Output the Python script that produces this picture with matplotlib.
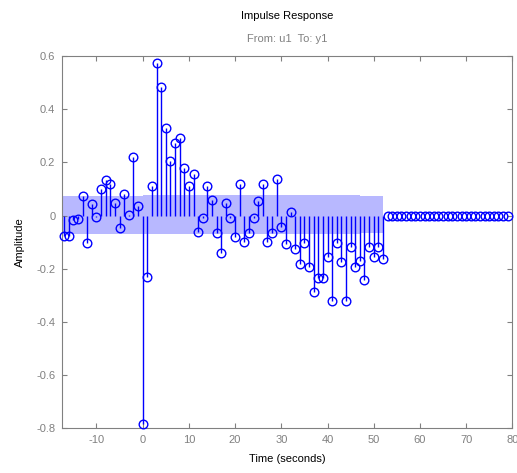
import numpy as np
import matplotlib
matplotlib.use("Agg")
import matplotlib.pyplot as plt

plt.rcParams['font.family'] = ['Liberation Sans', 'DejaVu Sans']
plt.rcParams['axes.unicode_minus'] = False

# ---- data ----
time_start = -17
response = [
    -0.077, -0.077, -0.015, -0.012, 0.075, -0.105, 0.043, -0.004, 0.100, 0.135,
    0.118, 0.046, -0.046, 0.081, 0.002, 0.222, 0.037, -0.784, -0.231, 0.110,
    0.573, 0.485, 0.331, 0.205, 0.274, 0.293, 0.178, 0.112, 0.155, -0.060,
    -0.010, 0.110, 0.059, -0.067, -0.142, 0.046, -0.010, -0.082, 0.118, -0.098,
    -0.067, -0.010, 0.055, 0.118, -0.098, -0.067, 0.136, -0.042, -0.107, 0.015,
    -0.127, -0.183, -0.103, -0.192, -0.289, -0.236, -0.236, -0.157, -0.322, -0.105,
    -0.173, -0.322, -0.118, -0.193, -0.171, -0.242, -0.117, -0.154, -0.117, -0.163,
]
n_zero_tail = 27  # zero samples after the estimated response
band_x = [-18, 0, 47, 52]
band_hi = [0.075, 0.078, 0.072, 0.072]
band_lo = [-0.069, -0.071, -0.067, -0.067]

xticks = [-10, 0, 10, 20, 30, 40, 50, 60, 70, 80]
xticklabels = ['-10', '0', '10', '20', '30', '40', '50', '60', '70', '80']
yticks = [-0.8, -0.6, -0.4, -0.2, 0.0, 0.2, 0.4, 0.6]
yticklabels = ['-0.8', '-0.6', '-0.4', '-0.2', '0', '0.2', '0.4', '0.6']

title = 'Impulse Response'
subtitle = 'From: u1  To: y1'
xlabel = 'Time (seconds)'
ylabel = 'Amplitude'

# ---- build ----
y = np.array(response + [0.0] * n_zero_tail)
t = np.arange(time_start, time_start + len(y))

fig = plt.figure(figsize=(5.17, 4.73), dpi=100)
ax = fig.add_axes([0.1205, 0.0945, 0.991 - 0.1205, 0.8816 - 0.0945])

ax.fill_between(band_x, band_hi, band_lo, step='post', color='#b8b8ff',
                linewidth=0, zorder=1)

blue = '#0000ff'
ax.vlines(t, 0, y, colors=blue, linewidth=1.0, zorder=2)
ax.plot(t, y, linestyle='none', marker='o', markersize=6.2,
        markerfacecolor='none', markeredgecolor=blue, markeredgewidth=1.0,
        zorder=3, clip_on=False)

ax.set_xlim(-17.4, 80)
ax.set_ylim(-0.8, 0.6)
ax.set_xticks(xticks)
ax.set_xticklabels(xticklabels)
ax.set_yticks(yticks)
ax.set_yticklabels(yticklabels)

gray = '#808080'
for s in ax.spines.values():
    s.set_color(gray)
    s.set_linewidth(0.8)
ax.tick_params(direction='in', length=3.6, width=0.8, color=gray,
               labelcolor=gray, labelsize=8, top=True, right=True,
               labeltop=False, labelright=False, pad=5)

ax.set_xlabel(xlabel, fontsize=8, color='black', labelpad=6)
ax.set_ylabel(ylabel, fontsize=8, color='black', labelpad=8)

fig.text(0.5557, 1 - 16 / 473, title, ha='center', va='center', fontsize=8,
         color='black')
fig.text(0.5557, 1 - 39 / 473, subtitle, ha='center', va='center', fontsize=8,
         color=gray)

fig.savefig('out.png', dpi=100)
